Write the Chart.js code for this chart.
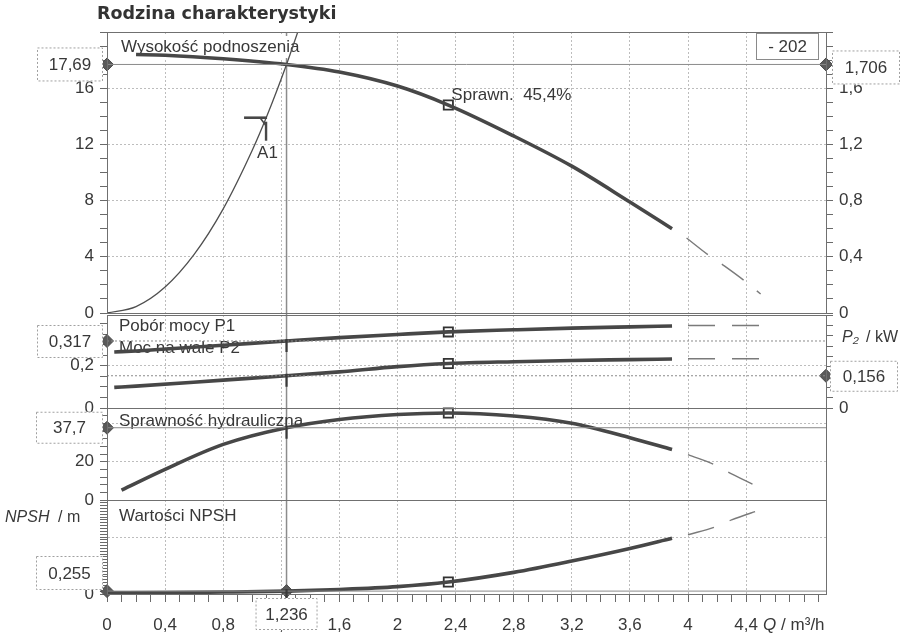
<!DOCTYPE html>
<html>
<head>
<meta charset="utf-8">
<script src="https://cdn.jsdelivr.net/npm/chart.js@4.4.1/dist/chart.umd.min.js"></script>
<style>
  body { margin: 0; background: #fff; width: 902px; height: 638px; overflow: hidden; }
  canvas { position: absolute; left: 0; top: 0; }
</style>
</head>
<body>
<canvas id="c1" width="902" height="638"></canvas>
<canvas id="c2" width="902" height="638"></canvas>
<canvas id="c3" width="902" height="638"></canvas>
<canvas id="c4" width="902" height="638"></canvas>
<script>
// ---------- dane ----------
const Q_MAX = 4.95;
const X_LABELS = [0, 0.4, 0.8, 1.2, 1.6, 2, 2.4, 2.8, 3.2, 3.6, 4, 4.4];
const Q_OP = 1.236;   // punkt pracy
const Q_BEP = 2.35;   // punkt optymalny

// Wysokość podnoszenia [m]
const Q_HEAD = [0.2, 0.4, 0.8, 1.236, 1.6, 2.0, 2.35, 2.8, 3.2, 3.6, 3.89];
const HEAD   = [18.4, 18.35, 18.1, 17.69, 17.15, 16.15, 14.8, 12.6, 10.45, 7.9, 6.0];
const Q_HEAD_EXT = [3.99, 4.14, 4.25, 4.4, 4.5];
const HEAD_EXT   = [5.34, 4.13, 3.35, 2.2, 1.35];

// charakterystyka instalacji (A1)
const Q_SYS = [0, 0.2, 0.4, 0.6, 0.8, 1.0, 1.1, 1.236, 1.32];
const SYS   = [0, 0.46, 1.85, 4.17, 7.41, 11.58, 14.0, 17.69, 20.2];

// Pobór mocy P1 / moc na wale P2 [kW]
const Q_PWR = [0.05, 0.2, 0.8, 1.236, 1.6, 2.0, 2.35, 2.8, 3.2, 3.6, 3.89];
const P1    = [0.265, 0.27, 0.297, 0.317, 0.333, 0.348, 0.36, 0.37, 0.378, 0.384, 0.388];
const P2    = [0.1, 0.106, 0.135, 0.156, 0.175, 0.2, 0.215, 0.224, 0.23, 0.234, 0.237];
const Q_PWR_EXT = [4.0, 4.56];
const P1_EXT    = [0.39, 0.39];
const P2_EXT    = [0.238, 0.238];

// Sprawność hydrauliczna [%]
const Q_EFF = [0.1, 0.4, 0.8, 1.236, 1.6, 2.0, 2.35, 2.8, 3.2, 3.6, 3.89];
const EFF   = [5.2, 16, 29, 37.7, 42, 44.6, 45.4, 43.8, 40, 32.5, 26.3];
const Q_EFF_EXT = [4.0, 4.2, 4.3, 4.5];
const EFF_EXT   = [23.7, 17.8, 13.6, 6.3];

// NPSH [m]
const Q_NPSH = [0, 0.4, 0.8, 1.236, 1.6, 2.0, 2.35, 2.8, 3.2, 3.6, 3.89];
const NPSH   = [0.1, 0.12, 0.17, 0.255, 0.4, 0.65, 1.05, 1.9, 2.9, 4.0, 4.9];
const Q_NPSH_EXT = [4.0, 4.19, 4.3, 4.5];
const NPSH_EXT   = [5.2, 5.9, 6.5, 7.4];

const OP_HEAD = 17.69, OP_HEAD_BAR = 1.706, OP_P1 = 0.317, OP_P2 = 0.156, OP_EFF = 37.7, OP_NPSH = 0.255;
const BEP_EFF = 45.4;
const CURVE_NO = '- 202';

// ---------- wygląd ----------
const FONT = "'Liberation Sans', Arial, sans-serif";
const TXT = '#383838';
const CURVE = '#474747';
const GRID = '#bdbdbd';
const AXIS = '#6a6a6a';
const DASH = [27, 17];

const fmt = v => String(Math.round(v * 1000) / 1000).replace('.', ',');
const isIn = (arr, v) => arr.some(a => Math.abs(a - v) < 1e-6);
const pts = (xs, ys) => xs.map((x, i) => ({ x, y: ys[i] }));
const at = (xs, ys, q) => ys[xs.indexOf(q)];

const X_MINOR = [];
for (let i = 0; i <= 49; i++) X_MINOR.push(+(i * 0.1).toFixed(2));

function curve(xs, ys, extra) {
  return Object.assign({ data: pts(xs, ys), borderColor: CURVE, borderWidth: 3.6, pointRadius: 0,
    cubicInterpolationMode: 'monotone', fill: false, showLine: true }, extra || {});
}
function ext(xs, ys, axis) {
  return curve(xs, ys, { borderColor: '#7a7a7a', borderWidth: 1.4, borderDash: DASH, yAxisID: axis || 'y' });
}
function hline(v, axis, dash) {
  return { data: [{ x: 0, y: v }, { x: Q_MAX, y: v }], borderColor: '#8a8a8a', borderWidth: 1, pointRadius: 0,
    borderDash: dash || [], showLine: true, yAxisID: axis || 'y' };
}
function marks(list, style, axis) {
  const sq = style === 'rect';
  return { data: list, showLine: false, pointStyle: style, yAxisID: axis || 'y', clip: false,
    pointRadius: sq ? 6.5 : 6.5, pointBackgroundColor: sq ? '#fff' : '#5a5a5a',
    pointBorderColor: sq ? '#333' : '#4a4a4a', pointBorderWidth: sq ? 1.8 : 1 };
}

function yAxis(pos, a) {
  return {
    type: 'linear', position: pos, min: a.min, max: a.max,
    afterBuildTicks: s => {
      const t = [];
      for (let i = 0; a.min + i * a.step <= a.max + 1e-9; i++) t.push({ value: +(a.min + i * a.step).toFixed(4) });
      s.ticks = t;
    },
    afterFit: s => { s.width = 40; },
    ticks: { autoSkip: false, callback: v => isIn(a.labels, v) ? fmt(v) : '',
      font: { family: FONT, size: 17 }, color: TXT, padding: 6 },
    grid: { drawOnChartArea: pos === 'left', tickLength: 7, tickColor: AXIS,
      color: c => (c.tick && isIn(a.grid, c.tick.value)) ? GRID : 'rgba(0,0,0,0)' },
    border: { color: AXIS, width: 1, dash: [2, 2] }
  };
}

function makeChart(id, cfg) {
  const xh = cfg.xAxis ? 40 : 0;
  const scales = {
    x: {
      type: 'linear', min: 0, max: Q_MAX,
      afterBuildTicks: s => { s.ticks = X_MINOR.map(v => ({ value: v })); },
      afterFit: s => { s.height = xh; },
      ticks: { display: !!cfg.xAxis, autoSkip: false, maxRotation: 0,
        callback: v => isIn(X_LABELS, v) ? fmt(v) : '',
        font: { family: FONT, size: 17 }, color: TXT, padding: 13 },
      grid: { drawTicks: !!cfg.xAxis, tickLength: 8, tickColor: AXIS,
        color: c => (c.tick && c.tick.value > 0 && isIn(X_LABELS, c.tick.value)) ? GRID : 'rgba(0,0,0,0)' },
      border: { display: false, dash: [2, 2] }
    },
    y: yAxis('left', cfg.y)
  };
  if (cfg.y2) scales.y2 = yAxis('right', cfg.y2);

  const frame = {
    id: 'frame-' + id,
    afterDatasetsDraw(ch) {
      const a = ch.chartArea, ctx = ch.ctx;
      ctx.save();
      ctx.strokeStyle = '#707070'; ctx.lineWidth = 1;
      ctx.strokeRect(Math.round(a.left) + 0.5, Math.round(a.top) + 0.5, Math.round(a.right - a.left), Math.round(a.bottom - a.top));
      ctx.restore();
    }
  };

  return new Chart(document.getElementById(id), {
    type: 'scatter',
    data: { datasets: cfg.datasets },
    options: {
      responsive: false, animation: false, events: [],
      layout: { padding: { top: cfg.top, bottom: 638 - cfg.bottom - xh, left: 67, right: cfg.y2 ? 36 : 76 } },
      plugins: { legend: { display: false }, tooltip: { enabled: false } },
      scales
    },
    plugins: [frame, cfg.plugin]
  });
}

// ---------- pomocnicze rysowanie tekstu ----------
function txt(ctx, s, x, y, o) {
  o = o || {};
  ctx.save();
  ctx.font = (o.style || '') + ' ' + (o.size || 17) + 'px ' + (o.family || FONT);
  ctx.textAlign = o.align || 'left';
  ctx.textBaseline = 'middle';
  if (o.bg) {
    const w = ctx.measureText(s).width;
    ctx.fillStyle = '#fff';
    ctx.fillRect(x - 3, y - 11, w + 6, 22);
  }
  ctx.fillStyle = o.color || TXT;
  ctx.fillText(s, x, y);
  ctx.restore();
}
function box(ctx, s, x, y, w, h, solid) {
  ctx.save();
  ctx.fillStyle = '#fff';
  ctx.fillRect(x, y, w, h);
  ctx.strokeStyle = solid ? '#8a8a8a' : '#a0a0a0';
  ctx.lineWidth = 1;
  if (!solid) ctx.setLineDash([2, 2]);
  ctx.strokeRect(x + 0.5, y + 0.5, w - 1, h - 1);
  ctx.restore();
  txt(ctx, s, x + w / 2, y + h / 2 + 1, { align: 'center' });
}
function seg(ctx, x1, y1, x2, y2, w, c) {
  ctx.save();
  ctx.strokeStyle = c || CURVE; ctx.lineWidth = w || 1;
  ctx.beginPath(); ctx.moveTo(x1, y1); ctx.lineTo(x2, y2); ctx.stroke();
  ctx.restore();
}
function opTick(ch, v, axis) {
  const x = ch.scales.x.getPixelForValue(Q_OP), y = ch.scales[axis || 'y'].getPixelForValue(v);
  seg(ch.ctx, x, y - 2, x, y + 11, 2.2, '#3a3a3a');
}

// ---------- panel 1: wysokość podnoszenia ----------
makeChart('c1', {
  top: 32, bottom: 313,
  y:  { min: 0, max: 20, step: 1, labels: [0, 4, 8, 12, 16], grid: [4, 8, 12, 16] },
  y2: { min: 0, max: 2, step: 0.1, labels: [0, 0.4, 0.8, 1.2, 1.6], grid: [] },
  datasets: [
    hline(OP_HEAD),
    curve(Q_SYS, SYS, { borderWidth: 1.3, borderColor: '#4f4f4f' }),
    curve(Q_HEAD, HEAD),
    ext(Q_HEAD_EXT, HEAD_EXT),
    marks([{ x: 0, y: OP_HEAD }, { x: Q_MAX, y: OP_HEAD }], 'rectRot'),
    marks([{ x: Q_BEP, y: at(Q_HEAD, HEAD, Q_BEP) }], 'rect')
  ],
  plugin: {
    id: 'p1',
    beforeDatasetsDraw(ch) {
      const { ctx, chartArea: a, scales: { x } } = ch;
      const xo = x.getPixelForValue(Q_OP);
      seg(ctx, xo, a.top, xo, 598, 1.5, '#8c8c8c');
      txt(ctx, 'Wysokość podnoszenia', a.left + 14, a.top + 15, { bg: true });
    },
    afterDraw(ch) {
      const { ctx, chartArea: a, scales: { x, y } } = ch;
      txt(ctx, 'Rodzina charakterystyki', 97, 14, { style: 'bold', size: 17.5, family: "'DejaVu Sans', Verdana, sans-serif", color: '#333' });
      // A1 – charakterystyka instalacji
      const ax = x.getPixelForValue(1.095), ay = y.getPixelForValue(13.9);
      seg(ctx, ax - 22, ay, ax + 1, ay, 2.6);
      seg(ctx, ax - 6, ay, ax, ay + 8, 1.6);
      seg(ctx, ax, ay + 4, ax, ay + 23, 2.4);
      txt(ctx, 'A1', ax - 9, ay + 36);
      // sprawność w punkcie optymalnym
      const bx = x.getPixelForValue(Q_BEP), by = y.getPixelForValue(at(Q_HEAD, HEAD, Q_BEP));
      txt(ctx, 'Sprawn.  ' + fmt(BEP_EFF) + '%', bx + 3, by - 10);
      // pola z wartościami
      const oy = y.getPixelForValue(OP_HEAD);
      box(ctx, fmt(OP_HEAD), a.left - 70, oy - 17, 66, 34);
      box(ctx, fmt(OP_HEAD_BAR), a.right + 6, oy - 14, 68, 34);
      box(ctx, CURVE_NO, a.right - 70, a.top + 1, 63, 27, true);
    }
  }
});

// ---------- panel 2: moc ----------
makeChart('c2', {
  top: 315, bottom: 408,
  y:  { min: 0, max: 0.44, step: 0.05, labels: [0, 0.2], grid: [0.2] },
  y2: { min: 0, max: 0.45, step: 0.05, labels: [0], grid: [] },
  datasets: [
    hline(OP_P1, 'y', [2, 2]),
    hline(OP_P2, 'y2', [2, 2]),
    curve(Q_PWR, P1),
    curve(Q_PWR, P2, { yAxisID: 'y2' }),
    ext(Q_PWR_EXT, P1_EXT),
    ext(Q_PWR_EXT, P2_EXT, 'y2'),
    marks([{ x: 0, y: OP_P1 }], 'rectRot'),
    marks([{ x: Q_MAX, y: OP_P2 }], 'rectRot', 'y2'),
    marks([{ x: Q_BEP, y: at(Q_PWR, P1, Q_BEP) }], 'rect'),
    marks([{ x: Q_BEP, y: at(Q_PWR, P2, Q_BEP) }], 'rect', 'y2')
  ],
  plugin: {
    id: 'p2',
    beforeDatasetsDraw(ch) {
      const { ctx, chartArea: a } = ch;
      txt(ctx, 'Pobór mocy P1', a.left + 12, a.top + 11);
      txt(ctx, 'Moc na wale P2', a.left + 12, a.top + 33);
    },
    afterDatasetsDraw(ch) {
      opTick(ch, OP_P1); opTick(ch, OP_P2, 'y2');
    },
    afterDraw(ch) {
      const { ctx, chartArea: a, scales: { y, y2 } } = ch;
      const o1 = y.getPixelForValue(OP_P1), o2 = y2.getPixelForValue(OP_P2);
      box(ctx, fmt(OP_P1), a.left - 70, o1 - 16, 66, 33);
      box(ctx, fmt(OP_P2), a.right + 4, o2 - 15, 68, 31);
      txt(ctx, 'P₂', a.right + 16, a.top + 23, { style: 'italic', size: 16 });
      txt(ctx, '/ kW', a.right + 40, a.top + 23, { size: 16 });
    }
  }
});

// ---------- panel 3: sprawność ----------
makeChart('c3', {
  top: 408, bottom: 500,
  y: { min: 0, max: 48, step: 4, labels: [0, 20, 40], grid: [20, 40] },
  datasets: [
    hline(OP_EFF),
    curve(Q_EFF, EFF),
    ext(Q_EFF_EXT, EFF_EXT),
    marks([{ x: 0, y: OP_EFF }], 'rectRot'),
    marks([{ x: Q_BEP, y: BEP_EFF }], 'rect')
  ],
  plugin: {
    id: 'p3',
    beforeDatasetsDraw(ch) {
      const { ctx, chartArea: a } = ch;
      txt(ctx, 'Sprawność hydrauliczna', a.left + 12, a.top + 13);
    },
    afterDatasetsDraw(ch) { opTick(ch, OP_EFF); },
    afterDraw(ch) {
      const { ctx, chartArea: a, scales: { y } } = ch;
      const o = y.getPixelForValue(OP_EFF);
      box(ctx, fmt(OP_EFF), a.left - 71, o - 16, 67, 32);
    }
  }
});

// ---------- panel 4: NPSH ----------
makeChart('c4', {
  top: 500, bottom: 594, xAxis: true,
  y: { min: 0, max: 8.25, step: 0.25, labels: [0], grid: [5] },
  datasets: [
    hline(OP_NPSH),
    curve(Q_NPSH, NPSH),
    ext(Q_NPSH_EXT, NPSH_EXT),
    marks([{ x: 0, y: OP_NPSH }, { x: Q_OP, y: OP_NPSH }], 'rectRot'),
    marks([{ x: Q_BEP, y: at(Q_NPSH, NPSH, Q_BEP) }], 'rect')
  ],
  plugin: {
    id: 'p4',
    beforeDatasetsDraw(ch) {
      const { ctx, chartArea: a } = ch;
      txt(ctx, 'Wartości NPSH', a.left + 12, a.top + 16);
    },
    afterDatasetsDraw(ch) { opTick(ch, OP_NPSH); },
    afterDraw(ch) {
      const { ctx, chartArea: a, scales: { x } } = ch;
      txt(ctx, 'NPSH', 5, a.top + 18, { style: 'italic', size: 16 });
      txt(ctx, '/ m', 58, a.top + 18, { size: 16 });
      box(ctx, fmt(OP_NPSH), a.left - 71, a.bottom - 38, 67, 34);
      const xo = x.getPixelForValue(Q_OP);
      box(ctx, fmt(Q_OP), xo - 31, a.bottom + 4, 62, 32);
      txt(ctx, 'Q', x.getPixelForValue(4.4) + 17, a.bottom + 31, { style: 'italic' });
      txt(ctx, '/ m³/h', x.getPixelForValue(4.4) + 35, a.bottom + 31);
    }
  }
});
</script>
</body>
</html>
